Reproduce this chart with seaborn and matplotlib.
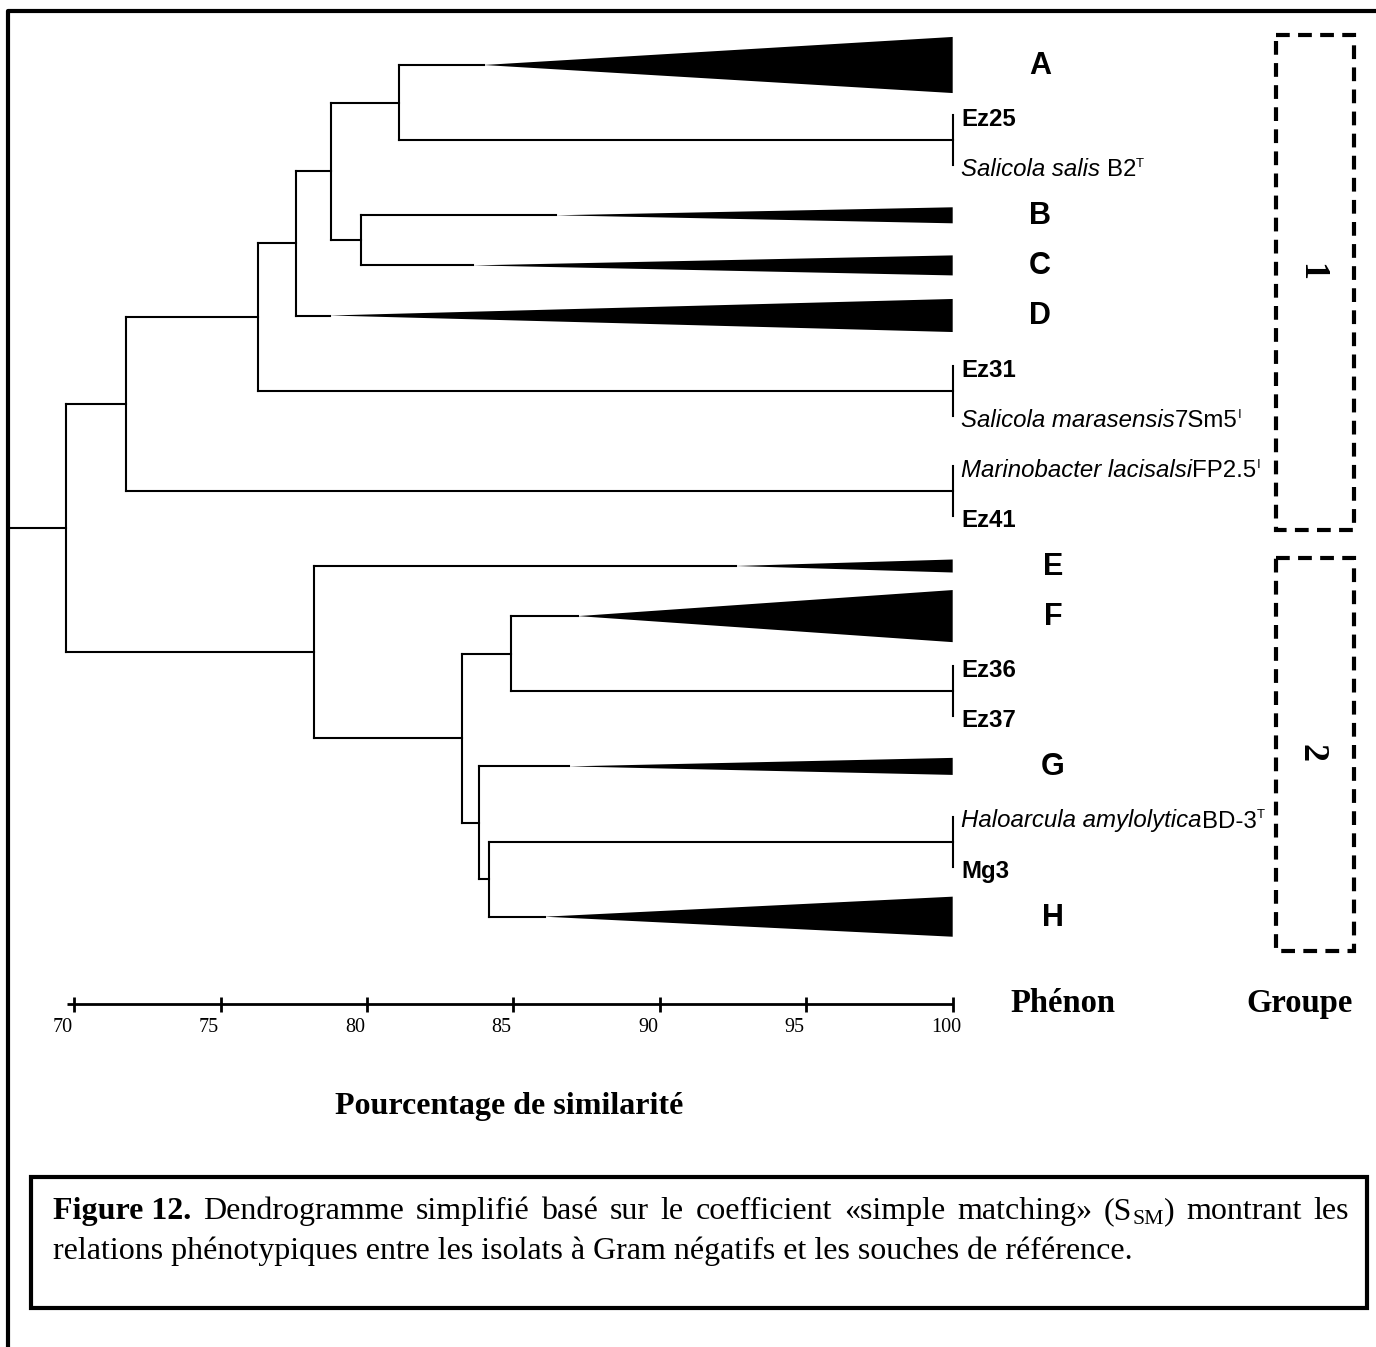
import numpy as np
import pandas as pd
import seaborn as sns
import matplotlib.pyplot as plt
from matplotlib.patches import Rectangle

# --- DATA ---
# leaf / phenon order from top to bottom
row_labels = ['A', 'Ez25', 'Salicola salis', 'B', 'C', 'D', 'Ez31', 'Salicola marasensis',
              'Marinobacter lacisalsi', 'Ez41', 'E', 'F', 'Ez36', 'Ez37', 'G',
              'Haloarcula amylolytica', 'Mg3', 'H']

phenons = ['A', 'B', 'C', 'D', 'E', 'F', 'G', 'H']
phenon_core = [83.98, 86.45, 83.62, 78.72, 92.59, 87.2, 86.89, 86.06]   # % where the wedge starts
phenon_spread = [0.56, 0.16, 0.2, 0.33, 0.13, 0.52, 0.17, 0.4]          # wedge half height (rows)

isolates = ['Ez25', 'Ez31', 'Ez41', 'Ez36', 'Ez37', 'Mg3']
ref_names = ['Salicola salis', 'Salicola marasensis', 'Marinobacter lacisalsi', 'Haloarcula amylolytica']
ref_strain = ['B2', '7Sm5', 'FP2.5', 'BD-3']
ref_gap = [True, False, False, False]
ref_sup = ['T', 'I', 'I', 'T']

# linkage: node, left child, right child, similarity (%)
node_names = ['p1', 'p2', 'p3', 'p4', 'p5', 'n1', 'n2', 'n3', 'n4', 'n5', 'n6',
              'n7', 'n8', 'n9', 'n10', 'n11', 'root']
left_child = ['Ez25', 'Ez31', 'Marinobacter lacisalsi', 'Ez36', 'Haloarcula amylolytica',
              'A', 'B', 'n1', 'n3', 'n4', 'n5', 'F', 'p5', 'G', 'n7', 'E', 'n6']
right_child = ['Salicola salis', 'Salicola marasensis', 'Ez41', 'Ez37', 'Mg3',
               'p1', 'C', 'n2', 'D', 'p2', 'p3', 'p4', 'H', 'n8', 'n9', 'n10', 'n11']
node_sim = [100, 100, 100, 100, 100, 81.09, 79.79, 78.77, 77.57, 76.26, 71.77,
            84.93, 84.16, 83.82, 83.24, 78.19, 69.73]

scale_ticks = [70, 75, 80, 85, 90, 95, 100]
group_labels = ['1', '2']

# --- GEOMETRY (pixel mapping) ---
W, H = 1376, 1347
def px2x(p):
    return 70 + (p - 74.3) / 29.28
def py2y(p):
    return (p - 65.0) / 50.1

sns.set_theme(style="white")
plt.rcParams['font.family'] = ['Liberation Sans', 'DejaVu Sans']
plt.rcParams['text.color'] = 'black'

fig = plt.figure(figsize=(W / 100, H / 100), dpi=100)
ax = fig.add_axes([0, 0, 1, 1])
renderer = fig.canvas.get_renderer()

# --- BUILD DENDROGRAM SEGMENTS ---
ypos = {lab: float(i) for i, lab in enumerate(row_labels)}
xend = {lab: 100.0 for lab in row_labels}
for p, c in zip(phenons, phenon_core):
    xend[p] = c

rows = []
seg = 0
for name, l, r, s in zip(node_names, left_child, right_child, node_sim):
    y = (ypos[l] + ypos[r]) / 2
    ypos[name] = y
    xend[name] = s
    rows += [(seg, s, ypos[l]), (seg, s, ypos[r])]
    seg += 1
    for c in (l, r):
        if xend[c] > s:
            rows += [(seg, s, ypos[c]), (seg, xend[c], ypos[c])]
            seg += 1
rows += [(seg, px2x(9), ypos['root']), (seg, node_sim[-1], ypos['root'])]
segs = pd.DataFrame(rows, columns=['seg', 'x', 'y'])

sns.lineplot(data=segs, x='x', y='y', units='seg', estimator=None, sort=False,
             color='black', linewidth=1.5, legend=False, ax=ax,
             solid_capstyle='projecting')

# wedges for phenons
for p, c, s in zip(phenons, phenon_core, phenon_spread):
    y = ypos[p]
    ax.fill([c, 100, 100], [y, y - s, y + s], color='black', lw=0)

# --- TEXT HELPERS ---
def text_w(s, **kw):
    t = ax.text(0, 0, s, **kw)
    w = t.get_window_extent(renderer).width
    t.remove()
    return w

def space_w(**kw):
    return text_w('x x', **kw) - text_w('xx', **kw)

def put_runs(x_px, base_px, runs):
    for s, kw, dy in runs:
        if s == ' ':
            x_px += space_w(**kw)
            continue
        ax.text(px2x(x_px), py2y(base_px - dy), s, ha='left', va='baseline', **kw)
        x_px += text_w(s, **kw)
    return x_px

sans = dict(family=['Liberation Sans', 'DejaVu Sans'])
serif = dict(family=['Liberation Serif', 'DejaVu Serif'])
lab_fs = 17.3
lab_x = 961
def row_px(y):
    return 65.0 + 50.1 * y

# isolates (bold)
for iso in isolates:
    put_runs(lab_x, row_px(ypos[iso]) + 11, [(iso, dict(fontsize=lab_fs, weight='bold', **sans), 0)])

# reference strains: italic species + strain + superscript
for nm, st, gap, sup in zip(ref_names, ref_strain, ref_gap, ref_sup):
    runs = [(nm, dict(fontsize=lab_fs, style='italic', **sans), 0)]
    if gap:
        runs.append((' ', dict(fontsize=lab_fs, **sans), 0))
    runs.append((st, dict(fontsize=lab_fs, **sans), 0))
    runs.append((sup, dict(fontsize=lab_fs * 0.55, **sans), 9))
    put_runs(lab_x, row_px(ypos[nm]) + 11, runs)

# phenon letters
for i, p in enumerate(phenons):
    cx = 1040 if i < 4 else 1053
    ax.text(px2x(cx), py2y(row_px(ypos[p]) + 1), p, ha='center', va='center',
            fontsize=22, weight='bold', **sans)

# group boxes
box_px = [(35, 530), (558, 951)]
num_px = [272, 753]
for g, (t, b), ny in zip(group_labels, box_px, num_px):
    ax.add_patch(Rectangle((px2x(1276), py2y(t)), px2x(1354) - px2x(1276), py2y(b) - py2y(t),
                           fill=False, lw=3, ec='black', linestyle=(0, (3.3, 2.0))))
    ax.text(px2x(1311), py2y(ny), g, rotation=-90, ha='center', va='center',
            fontsize=26, weight='bold', **serif)

# --- SCALE BAR ---
ax.plot([px2x(67), 100], [py2y(1004.3)] * 2, color='black', lw=2, solid_capstyle='butt')
ax.vlines(scale_ticks, py2y(997), py2y(1012), color='black', lw=2)
for t in scale_ticks:
    ax.text(t - 0.75, py2y(1028), str(t), ha='left', va='center', fontsize=14.5, **serif)

ax.text(px2x(1063), py2y(1012), 'Phénon', ha='center', va='baseline', fontsize=23.5, weight='bold', **serif)
ax.text(px2x(1300), py2y(1012), 'Groupe', ha='center', va='baseline', fontsize=23.5, weight='bold', **serif)
ax.text(px2x(509), py2y(1114), 'Pourcentage de similarité', ha='center', va='baseline',
        fontsize=23, weight='bold', **serif)

# --- FRAME ---
ax.plot([px2x(8), px2x(8), px2x(W + 5)], [py2y(H + 5), py2y(11), py2y(11)], color='black', lw=3,
        solid_capstyle='projecting')

# --- CAPTION BOX ---
ax.add_patch(Rectangle((px2x(31), py2y(1177)), px2x(1367) - px2x(31), py2y(1308) - py2y(1177),
                       fill=False, lw=3, ec='black'))
cap_fs = 23
reg = dict(fontsize=cap_fs, **serif)
bold = dict(fontsize=cap_fs, weight='bold', **serif)
sub = dict(fontsize=cap_fs * 0.68, **serif)
line1 = [[('Figure 12.', bold, 0)], [('Dendrogramme', reg, 0)], [('simplifié', reg, 0)],
         [('basé', reg, 0)], [('sur', reg, 0)], [('le', reg, 0)], [('coefficient', reg, 0)],
         [('«simple', reg, 0)], [('matching»', reg, 0)],
         [('(S', reg, 0), ('SM', sub, -5), (')', reg, 0)], [('montrant', reg, 0)], [('les', reg, 0)]]
widths = [sum(text_w(s, **kw) for s, kw, _ in w) for w in line1]
gap = (1349 - 53 - sum(widths)) / (len(line1) - 1)
x = 53
for w, wd in zip(line1, widths):
    put_runs(x, 1219, w)
    x += wd + gap
put_runs(53, 1259, [('relations phénotypiques entre les isolats à Gram négatifs et les souches de référence.', reg, 0)])

ax.set_xlim(px2x(0), px2x(W))
ax.set_ylim(py2y(H), py2y(0))
ax.axis('off')

plt.savefig('out.png', dpi=100)
